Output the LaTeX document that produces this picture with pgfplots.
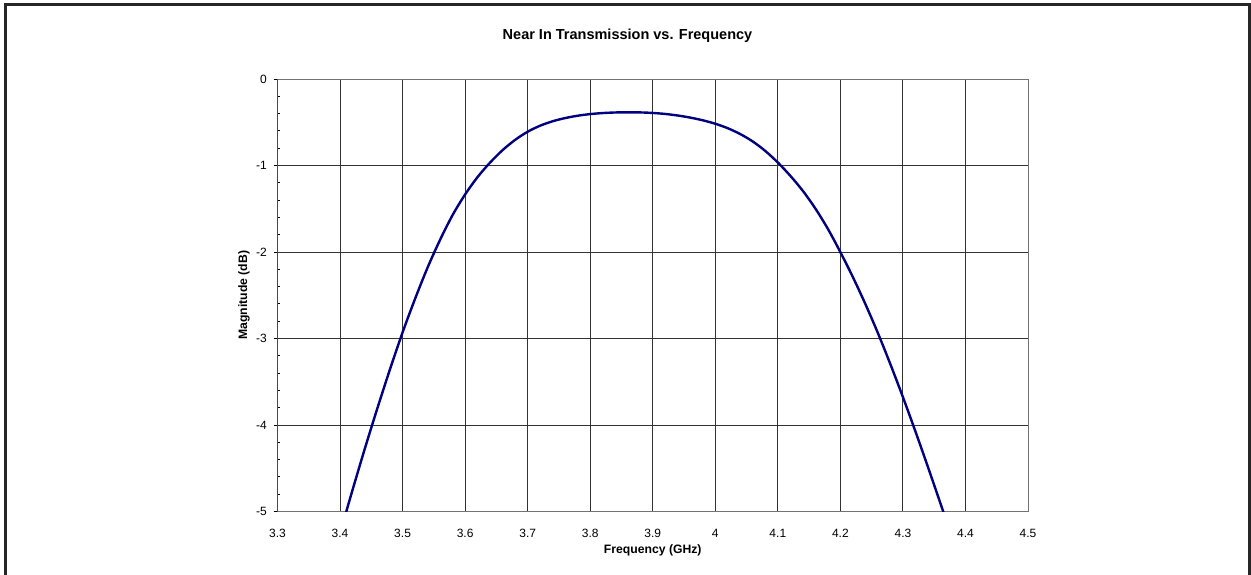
\documentclass[border=0pt]{standalone}
\usepackage{pgfplots}
\pgfplotsset{compat=1.18}
\usepackage{fontspec}
\setmainfont{Liberation Sans}
\definecolor{navyline}{RGB}{0,0,128}
\begin{document}
\begin{tikzpicture}
\useasboundingbox (0pt,0pt) rectangle (1251pt,-575pt);
\fill[white] (0pt,0pt) rectangle (1251pt,-575pt);
\draw[line width=2.6pt, black!85] (5.3pt,-576pt) -- (5.3pt,-4.3pt) -- (1249.7pt,-4.3pt) -- (1249.7pt,-576pt);
\node[font=\fontsize{14.5}{17}\selectfont\bfseries] at (627.5pt,-35.5pt) {Near In Transmission vs. Frequency};
\begin{axis}[
  at={(277.5pt,-511.5pt)}, anchor=south west,
  scale only axis, width=750.5pt, height=432.5pt,
  xmin=3.3, xmax=4.5, ymin=-5, ymax=0,
  xtick={3.3,3.4,3.5,3.6,3.7,3.8,3.9,4.0,4.1,4.2,4.3,4.4,4.5},
  xticklabels={3.3,3.4,3.5,3.6,3.7,3.8,3.9,4,4.1,4.2,4.3,4.4,4.5},
  ytick={-5,-4,-3,-2,-1,0},
  yticklabels={-5,-4,-3,-2,-1,0},
  ytick pos=left,
  minor y tick num=4,
  grid=major,
  major grid style={black!80, line width=0.9pt},
  axis line style={black!55, line width=1pt},
  tick align=outside,
  major tick length=4pt,
  minor tick length=2.5pt,
  minor y tick style={xshift=2.5pt, black, line width=0.9pt},
  major y tick style={black, line width=0.9pt},
  x tick style={draw=none},
  tick label style={font=\fontsize{12}{14}\selectfont},
  xticklabel style={anchor=center, yshift=-18pt},
  yticklabel style={anchor=east, inner sep=0pt, xshift=-6.5pt},
  xlabel={Frequency (GHz)},
  ylabel={Magnitude (dB)},
  label style={font=\fontsize{12.2}{14}\selectfont\bfseries},
  xlabel style={at={(axis description cs:0.5,-0.0902)}, anchor=center},
  ylabel style={at={(axis description cs:-0.0446,0.5)}, anchor=center},
  clip=true,
]
\addplot[navyline, line width=2.4pt, smooth] coordinates {
(3.40,-5.2505) (3.42,-4.7505) (3.44,-4.2645) (3.46,-3.7995) (3.48,-3.3525)
(3.50,-2.9295) (3.52,-2.5405) (3.54,-2.1795) (3.56,-1.8585) (3.58,-1.5725)
(3.60,-1.3345) (3.62,-1.1325) (3.64,-0.9655) (3.66,-0.8215) (3.68,-0.7035)
(3.70,-0.6095) (3.72,-0.5395) (3.74,-0.4885) (3.76,-0.4515) (3.78,-0.4245)
(3.80,-0.4057) (3.82,-0.3937) (3.84,-0.3870) (3.86,-0.3850) (3.88,-0.3864)
(3.90,-0.3924) (3.92,-0.4041) (3.94,-0.4221) (3.96,-0.4463) (3.98,-0.4773)
(4.00,-0.5173) (4.02,-0.5693) (4.04,-0.6368) (4.06,-0.7228) (4.08,-0.8323)
(4.10,-0.9653) (4.12,-1.1193) (4.14,-1.2933) (4.16,-1.4973) (4.18,-1.7323)
(4.20,-2.0013) (4.22,-2.2903) (4.24,-2.6023) (4.26,-2.9373) (4.28,-3.2983)
(4.30,-3.6773) (4.32,-4.0743) (4.34,-4.4853) (4.36,-4.9063) (4.38,-5.3303)
};
\draw[black, line width=1pt] (rel axis cs:0,0) -- (rel axis cs:0,1);
\end{axis}
\end{tikzpicture}
\end{document}
